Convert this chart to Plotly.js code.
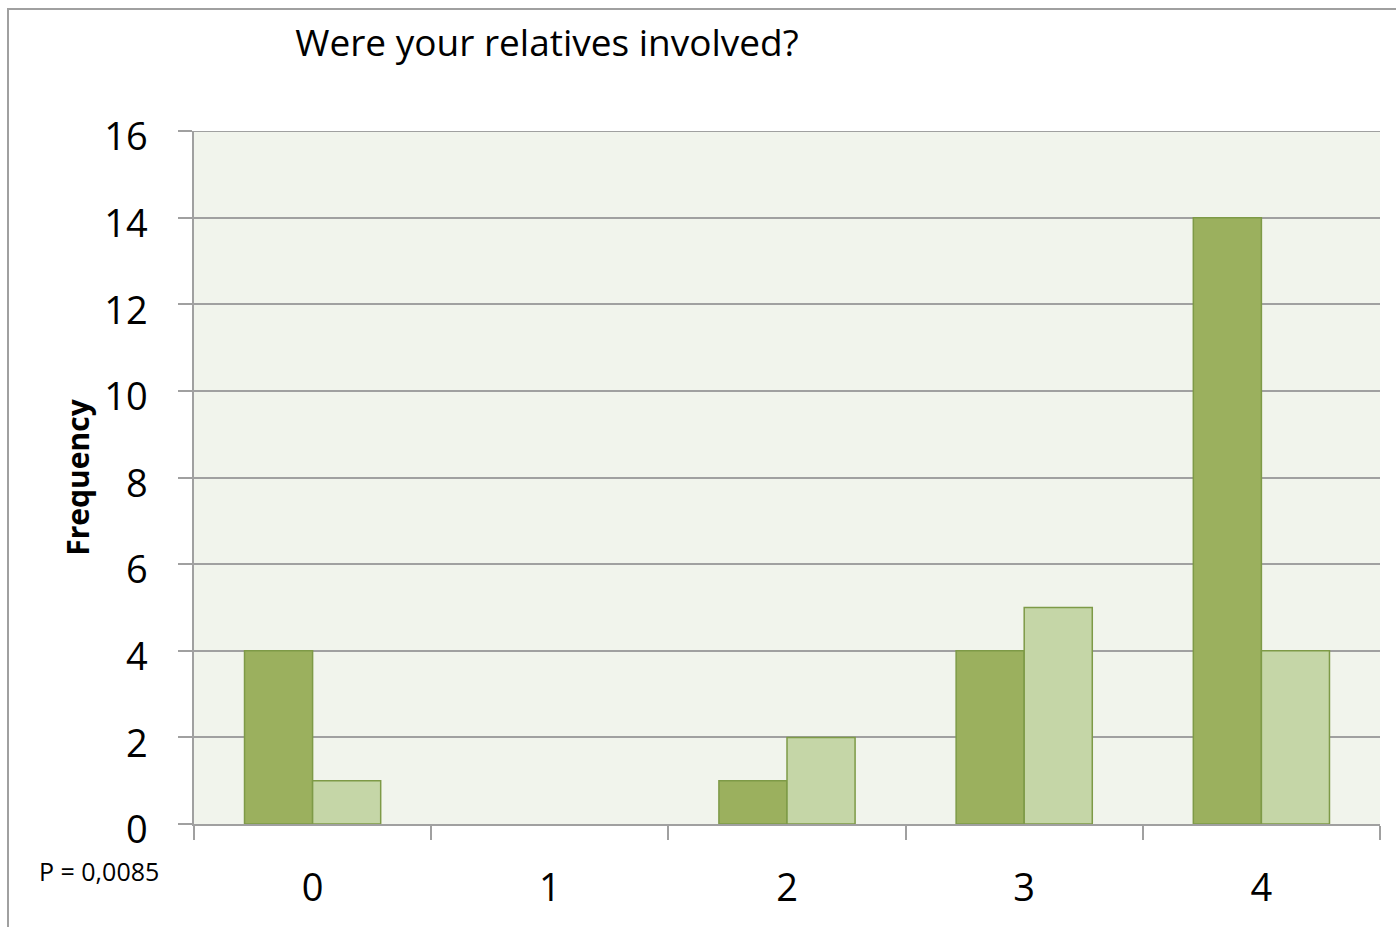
<!DOCTYPE html>
<html>
<head>
<meta charset="utf-8">
<script src="https://cdn.plot.ly/plotly-3.0.1.min.js"></script>
<style>html,body{margin:0;padding:0;background:#fff;}#chart{width:1396px;height:927px;}</style>
</head>
<body>
<div id="chart"></div>
<script>
const categories = ["0", "1", "2", "3", "4"];
const seriesDark = [4, 0, 1, 4, 14];
const seriesLight = [1, 0, 2, 5, 4];
const yTicks = [0, 2, 4, 6, 8, 10, 12, 14, 16];

const font = "Open Sans, Lato, sans-serif";
const lineW = v => v > 0 ? 1.5 : 0;
const traces = [
  {type: "bar", x: categories, y: seriesDark, name: "A",
   marker: {color: "#9BB05E", line: {color: "#7E9A47", width: seriesDark.map(lineW)}}},
  {type: "bar", x: categories, y: seriesLight, name: "B",
   marker: {color: "#C5D6A7", line: {color: "#7E9A47", width: seriesLight.map(lineW)}}}
];
const layout = {
  width: 1396, height: 927,
  margin: {l: 194, r: 16, t: 131, b: 103},
  paper_bgcolor: "#ffffff",
  plot_bgcolor: "#F1F4EC",
  showlegend: false,
  barmode: "group",
  bargap: 0.426,
  bargroupgap: 0,
  font: {family: font, color: "#000"},
  title: {text: "Were your relatives involved?", font: {family: font, size: 37, color: "#000"},
          x: 547/1396, xanchor: "center", y: 1 - 43/927, yanchor: "middle", xref: "container", yref: "container"},
  xaxis: {
    type: "category", tickson: "boundaries", ticks: "outside", ticklen: 14, tickwidth: 1.5, tickcolor: "#A0A0A0",
    showline: true, linecolor: "#A0A0A0", linewidth: 1.5, showgrid: false,
    tickfont: {family: font, size: 38, color: "#000"}, ticklabelstandoff: 30
  },
  yaxis: {
    range: [0, 16], tickvals: yTicks, ticktext: yTicks.map(String), ticks: "outside", ticklen: 14, tickwidth: 1.5, tickcolor: "#A0A0A0",
    showline: true, linecolor: "#A0A0A0", linewidth: 1.5, showgrid: true, gridcolor: "#A0A0A0", gridwidth: 1.5,
    zeroline: false, tickfont: {family: font, size: 38, color: "#000"}, ticklabelstandoff: 23, ticklabelshift: 6,
    title: {text: "<b>Frequency</b>", font: {family: font, size: 30, color: "#000"}, standoff: 6}
  },
  annotations: [{text: "P = 0,0085", xref: "paper", yref: "paper", x: (99-194)/1186, y: (824-871)/693,
    xanchor: "center", yanchor: "middle", showarrow: false, font: {family: font, size: 25, color: "#000"}}],
  shapes: [
    {type: "rect", xref: "paper", yref: "paper", x0: (8-194)/1186, x1: 1.05, y0: -0.3, y1: (824-9)/693,
     line: {color: "#A0A0A0", width: 2}, fillcolor: "rgba(0,0,0,0)", layer: "below"},
    {type: "line", xref: "paper", yref: "y", x0: 0, x1: 1, y0: 16, y1: 16,
     line: {color: "#A0A0A0", width: 2}}
  ]
};
Plotly.newPlot("chart", traces, layout, {displayModeBar: false});
</script>
</body>
</html>
